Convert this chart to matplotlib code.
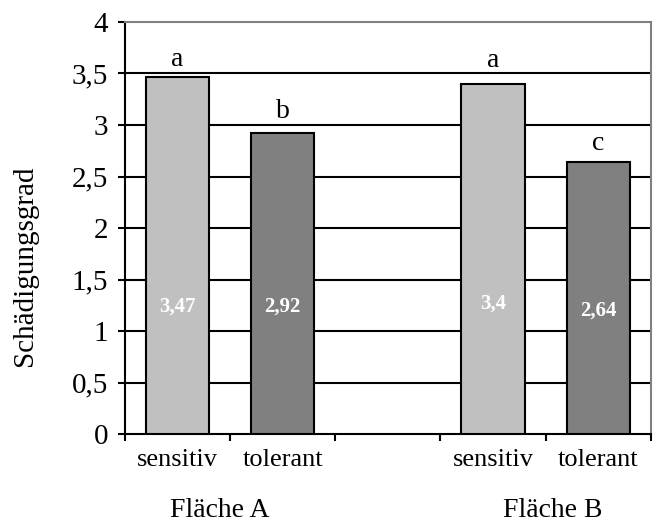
import matplotlib.pyplot as plt
import numpy as np

plt.rcParams['font.family'] = ['Liberation Serif', 'DejaVu Serif']

categories = ["sensitiv", "tolerant", "", "sensitiv", "tolerant"]
values = [3.47, 2.92, None, 3.4, 2.64]
letters = ["a", "b", "", "a", "c"]
letter_y = [3.57, 3.07, None, 3.56, 2.76]
value_labels = ["3,47", "2,92", "", "3,4", "2,64"]
label_heights = [1.24, 1.24, None, 1.27, 1.2]
colors = ["#C0C0C0", "#808080", None, "#C0C0C0", "#808080"]
groups = ["Fläche A", "Fläche B"]
group_x = [0.4, 3.57]
yticks = [0, 0.5, 1, 1.5, 2, 2.5, 3, 3.5, 4]
ytick_labels = ["0", "0,5", "1", "1,5", "2", "2,5", "3", "3,5", "4"]

fig = plt.figure(figsize=(6.58, 5.23), dpi=100)
ax = fig.add_axes([0.19, 0.17, 0.799, 0.788])

x = np.arange(len(categories))
for i in range(len(categories)):
    if values[i] is None:
        continue
    ax.bar(x[i], values[i], width=0.6, color=colors[i], edgecolor="black",
           linewidth=1.5, zorder=3)
    ax.text(x[i], letter_y[i], letters[i], ha="center", va="baseline", fontsize=20)
    ax.text(x[i], label_heights[i], value_labels[i], ha="center", va="center",
            color="white", fontweight="bold", fontsize=15, zorder=4)

ax.set_xlim(-0.5, len(categories) - 0.5)
ax.set_ylim(0, 4)
ax.set_yticks(yticks)
ax.set_yticklabels(ytick_labels, fontsize=21)
for y in yticks[1:-1]:
    ax.axhline(y, color="black", linewidth=1.5, zorder=1)

ax.set_xticks(x)
ax.set_xticklabels(categories, fontsize=19)
ax.tick_params(axis="x", which="major", length=0, pad=11)
ax.set_xticks(np.arange(len(categories) + 1) - 0.5, minor=True)
ax.tick_params(axis="x", which="minor", length=5, width=1.5, direction="out")
ax.tick_params(axis="y", length=5, width=1.5, direction="out", pad=7)

ax.spines["left"].set_linewidth(1.5)
ax.spines["bottom"].set_linewidth(1.5)
for side in ["top", "right"]:
    ax.spines[side].set_color("#808080")
    ax.spines[side].set_linewidth(1.5)

ax.set_ylabel("Schädigungsgrad", fontsize=21)
ax.yaxis.set_label_coords(-0.19, 0.408)
ax.yaxis.label.set_va("center")

for gx, g in zip(group_x, groups):
    ax.annotate(g, xy=(gx, 0), xycoords=("data", "axes fraction"),
                xytext=(0, -60), textcoords="offset points",
                ha="center", va="baseline", fontsize=20)

fig.savefig("out.png", dpi=100)
